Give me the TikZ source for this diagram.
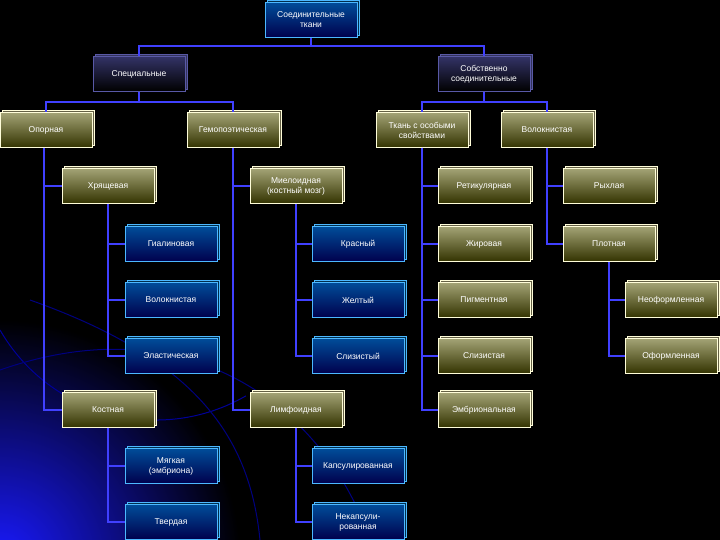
\documentclass[tikz,border=0pt]{standalone}
\usepackage{fontspec}
\setmainfont{Liberation Sans}
\usetikzlibrary{shadows}
\begin{document}
\begin{tikzpicture}[x=1pt,y=-1pt,
  box/.style={minimum width=92pt,minimum height=35pt,inner sep=1pt,align=center,
    font=\fontsize{8.5}{10}\selectfont,text=white,line width=0.8pt},
  ol/.style={box,draw=yellow!15!white,top color=gray!80!yellow!90,bottom color=black!80!yellow,
    copy shadow={shadow xshift=2.5pt,shadow yshift=2.5pt,fill=black!70!yellow,draw=yellow!15!white}},
  bl/.style={box,draw=blue!40!cyan!70!white,top color=blue!50!cyan!60!black,bottom color=blue!30!black,
    copy shadow={shadow xshift=2.5pt,shadow yshift=2.5pt,fill=blue!40!cyan!30!black,draw=blue!40!cyan!70!white}},
  pu/.style={box,draw=blue!30!gray,top color=blue!25!black!80,bottom color=black,
    copy shadow={shadow xshift=2.5pt,shadow yshift=2.5pt,fill=blue!20!black!80,draw=blue!30!gray}},
  ln/.style={draw=blue!75!white,line width=1.3pt}]
\fill[black] (0,0) rectangle (720,540);
\useasboundingbox (0,0) rectangle (720,540);
\begin{scope}
\clip (0,0) rectangle (720,540);
\shade[inner color=blue!90!white,outer color=black] (0,560) circle (240);
\draw[blue!60!black,line width=1pt] (0,330) arc (150:60:180) ;
\draw[blue!50!black,line width=1pt] (0,370) .. controls (200,300) and (330,420) .. (370,540);
\draw[blue!50!black,line width=1pt] (30,300) .. controls (200,360) and (250,440) .. (260,540);
\end{scope}
% nodes
\node[bl] (root) at (311,20) {Соединительные\\ткани};
\node[pu] (sp) at (139,74) {Специальные};
\node[pu] (so) at (484,74) {Собственно\\соединительные};
\node[ol] (op) at (46,130) {Опорная};
\node[ol] (gem) at (233,130) {Гемопоэтическая};
\node[ol] (tos) at (422,130) {Ткань с особыми\\свойствами};
\node[ol] (vol) at (547,130) {Волокнистая};
\node[ol] (hr) at (108,186) {Хрящевая};
\node[ol] (mie) at (296,186) {Миелоидная\\(костный мозг)};
\node[ol] (ret) at (484,186) {Ретикулярная};
\node[ol] (ryh) at (609,186) {Рыхлая};
\node[bl] (gia) at (171,244) {Гиалиновая};
\node[bl] (vk) at (171,300) {Волокнистая};
\node[bl] (el) at (171,356) {Эластическая};
\node[bl] (kr) at (358,244) {Красный};
\node[bl] (zh) at (358,300) {Желтый};
\node[bl] (sl) at (358,356) {Слизистый};
\node[ol] (zhir) at (484,244) {Жировая};
\node[ol] (pig) at (484,300) {Пигментная};
\node[ol] (sli) at (484,356) {Слизистая};
\node[ol] (emb) at (484,410) {Эмбриональная};
\node[ol] (plo) at (609,244) {Плотная};
\node[ol] (neo) at (671,300) {Неоформленная};
\node[ol] (ofo) at (671,356) {Оформленная};
\node[ol] (kos) at (108,410) {Костная};
\node[ol] (lim) at (296,410) {Лимфоидная};
\node[bl] (mya) at (171,466) {Мягкая\\(эмбриона)};
\node[bl] (tve) at (171,522) {Твердая};
\node[bl] (kap) at (358,466) {Капсулированная};
\node[bl] (nek) at (358,522) {Некапсули-\\рованная};
% connectors
\draw[ln] (root.south) -- ++(0,8) -| (sp.north);
\draw[ln] (root.south) -- ++(0,8) -| (so.north);
\draw[ln] (sp.south) -- ++(0,10) -| (op.north);
\draw[ln] (sp.south) -- ++(0,10) -| (gem.north);
\draw[ln] (so.south) -- ++(0,10) -| (tos.north);
\draw[ln] (so.south) -- ++(0,10) -| (vol.north);
\draw[ln] ([xshift=-2pt]op.south) |- (hr.west);
\draw[ln] ([xshift=-2pt]op.south) |- (kos.west);
\draw[ln] (hr.south) |- (gia.west);
\draw[ln] (hr.south) |- (vk.west);
\draw[ln] (hr.south) |- (el.west);
\draw[ln] (kos.south) |- (mya.west);
\draw[ln] (kos.south) |- (tve.west);
\draw[ln] (gem.south) |- (mie.west);
\draw[ln] (gem.south) |- (lim.west);
\draw[ln] (mie.south) |- (kr.west);
\draw[ln] (mie.south) |- (zh.west);
\draw[ln] (mie.south) |- (sl.west);
\draw[ln] (lim.south) |- (kap.west);
\draw[ln] (lim.south) |- (nek.west);
\draw[ln] (tos.south) |- (ret.west);
\draw[ln] (tos.south) |- (zhir.west);
\draw[ln] (tos.south) |- (pig.west);
\draw[ln] (tos.south) |- (sli.west);
\draw[ln] (tos.south) |- (emb.west);
\draw[ln] (vol.south) |- (ryh.west);
\draw[ln] (vol.south) |- (plo.west);
\draw[ln] (plo.south) |- (neo.west);
\draw[ln] (plo.south) |- (ofo.west);
\end{tikzpicture}
\end{document}
